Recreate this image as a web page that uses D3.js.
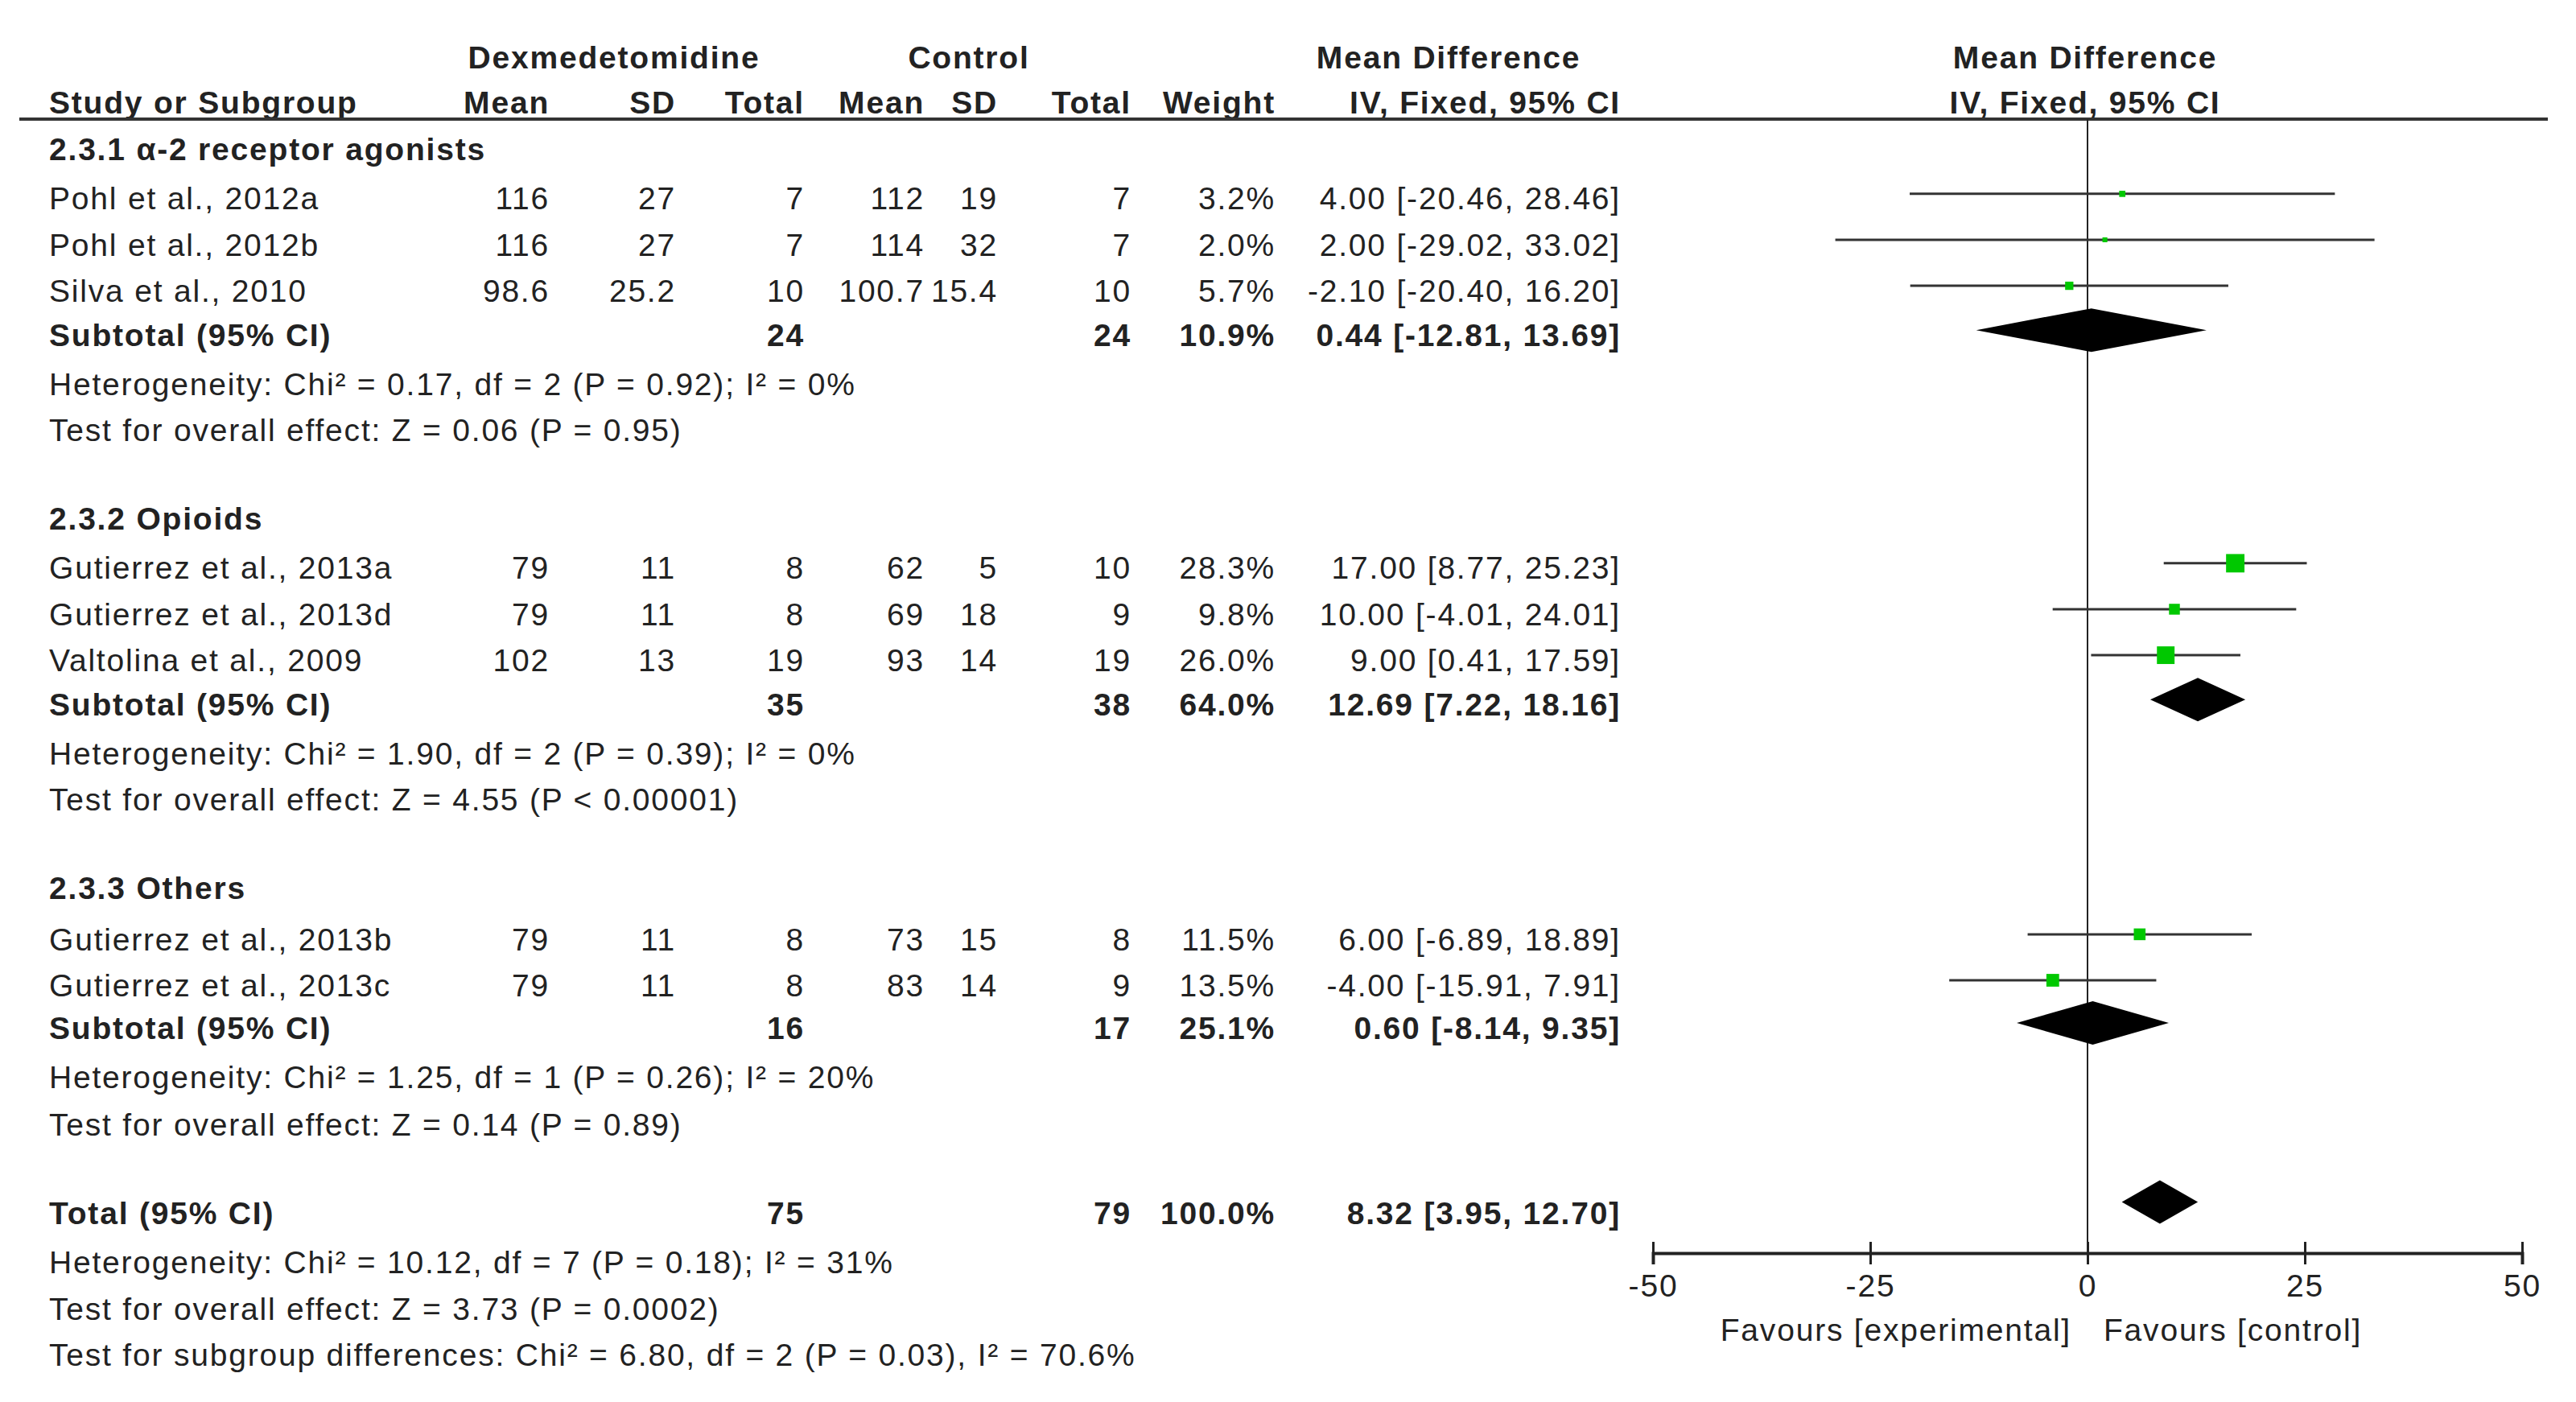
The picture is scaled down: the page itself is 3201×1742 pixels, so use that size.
<!DOCTYPE html><html><head><meta charset="utf-8"><script src="https://cdn.jsdelivr.net/npm/d3@7"></script>
<style>body{margin:0;background:#fff}text{font-family:"Liberation Sans",Arial,sans-serif;font-size:39px;letter-spacing:1.8px;fill:#222}</style></head><body>
<svg id="c" width="3201" height="1742"></svg>
<script>
const studies=["Pohl et al., 2012a","Pohl et al., 2012b","Silva et al., 2010","Gutierrez et al., 2013a","Gutierrez et al., 2013d","Valtolina et al., 2009","Gutierrez et al., 2013b","Gutierrez et al., 2013c"];
const studyGroup=[0,0,0,1,1,1,2,2];
const expMean=["116","116","98.6","79","79","102","79","79"];
const expSD=["27","27","25.2","11","11","13","11","11"];
const expN=["7","7","10","8","8","19","8","8"];
const ctlMean=["112","114","100.7","62","69","93","73","83"];
const ctlSD=["19","32","15.4","5","18","14","15","14"];
const ctlN=["7","7","10","10","9","19","8","9"];
const weight=[3.2,2.0,5.7,28.3,9.8,26.0,11.5,13.5];
const md=[4.00,2.00,-2.10,17.00,10.00,9.00,6.00,-4.00];
const lo=[-20.46,-29.02,-20.40,8.77,-4.01,0.41,-6.89,-15.91];
const hi=[28.46,33.02,16.20,25.23,24.01,17.59,18.89,7.91];
const groups=["2.3.1 α-2 receptor agonists","2.3.2 Opioids","2.3.3 Others"];
const subN1=["24","35","16"],subN2=["24","38","17"],subW=["10.9%","64.0%","25.1%"];
const subMd=[0.44,12.69,0.60],subLo=[-12.81,7.22,-8.14],subHi=[13.69,18.16,9.35];
const subHet=["Heterogeneity: Chi² = 0.17, df = 2 (P = 0.92); I² = 0%","Heterogeneity: Chi² = 1.90, df = 2 (P = 0.39); I² = 0%","Heterogeneity: Chi² = 1.25, df = 1 (P = 0.26); I² = 20%"];
const subTest=["Test for overall effect: Z = 0.06 (P = 0.95)","Test for overall effect: Z = 4.55 (P < 0.00001)","Test for overall effect: Z = 0.14 (P = 0.89)"];
const total={n1:"75",n2:"79",w:"100.0%",md:8.32,lo:3.95,hi:12.70};
const totalNotes=["Heterogeneity: Chi² = 10.12, df = 7 (P = 0.18); I² = 31%","Test for overall effect: Z = 3.73 (P = 0.0002)","Test for subgroup differences: Chi² = 6.80, df = 2 (P = 0.03), I² = 70.6%"];
const ticks=[-50,-25,0,25,50];

const svg=d3.select("#c");
const x=d3.scaleLinear().domain([-50,50]).range([2054,3134]);
const S=2.04;
const studyY=[121,149,177,346,374,402,572,600].map(v=>v*S);
const groupY=[91,316,541].map(v=>v*S), subY=[204,429,626].map(v=>v*S);
const hetY=[234,459,656].map(v=>v*S), testY=[262,487,685].map(v=>v*S);
const totY=739*S, totNoteY=[769,797,825].map(v=>v*S);
const cols=[683,840,1000,1149,1240,1406,1585,2014];
const f=v=>v.toFixed(2);
function t(xx,yy,s,anchor,bold){svg.append("text").attr("x",xx).attr("y",yy).attr("dy","0.35em").attr("text-anchor",anchor||"start").attr("font-weight",bold?"bold":null).text(s);}
t(763,71,"Dexmedetomidine","middle",1);t(1204,71,"Control","middle",1);t(1800,71,"Mean Difference","middle",1);t(2591,71,"Mean Difference","middle",1);
t(61,127,"Study or Subgroup","start",1);
["Mean","SD","Total","Mean","SD","Total","Weight","IV, Fixed, 95% CI"].forEach((h,i)=>t(cols[i],127,h,"end",1));
t(2591,127,"IV, Fixed, 95% CI","middle",1);
svg.append("line").attr("x1",24).attr("x2",3166).attr("y1",148).attr("y2",148).attr("stroke","#333").attr("stroke-width",4);
svg.append("line").attr("x1",x(0)).attr("x2",x(0)).attr("y1",148).attr("y2",1557).attr("stroke","#222").attr("stroke-width",2);
groupY.forEach((y,i)=>t(61,y,groups[i],"start",1));
studies.forEach((s,i)=>{const y=studyY[i];t(61,y,s);
 [expMean[i],expSD[i],expN[i],ctlMean[i],ctlSD[i],ctlN[i],weight[i].toFixed(1)+"%",`${f(md[i])} [${f(lo[i])}, ${f(hi[i])}]`].forEach((v,j)=>t(cols[j],y,v,"end"));
 svg.append("line").attr("x1",x(lo[i])).attr("x2",x(hi[i])).attr("y1",y-6).attr("y2",y-6).attr("stroke","#333").attr("stroke-width",3);
 const sz=Math.max(5,Math.sqrt(weight[i])*4.3);
 svg.append("rect").attr("x",x(md[i])-sz/2).attr("y",y-6-sz/2).attr("width",sz).attr("height",sz).attr("fill","#00c800");});
function diamond(m,l,h,y){svg.append("path").attr("d",`M${x(l)},${y}L${x(m)},${y-27}L${x(h)},${y}L${x(m)},${y+27}Z`).attr("fill","#000");}
subY.forEach((y,i)=>{t(61,y,"Subtotal (95% CI)","start",1);t(cols[2],y,subN1[i],"end",1);t(cols[5],y,subN2[i],"end",1);t(cols[6],y,subW[i],"end",1);
 t(cols[7],y,`${f(subMd[i])} [${f(subLo[i])}, ${f(subHi[i])}]`,"end",1);diamond(subMd[i],subLo[i],subHi[i],y-6);
 t(61,hetY[i],subHet[i]);t(61,testY[i],subTest[i]);});
t(61,totY,"Total (95% CI)","start",1);t(cols[2],totY,total.n1,"end",1);t(cols[5],totY,total.n2,"end",1);t(cols[6],totY,total.w,"end",1);
t(cols[7],totY,`${f(total.md)} [${f(total.lo)}, ${f(total.hi)}]`,"end",1);diamond(total.md,total.lo,total.hi,totY-14);
totalNotes.forEach((s,i)=>t(61,totNoteY[i],s));
const ax=svg.append("g").attr("transform","translate(0,1557)").call(d3.axisBottom(x).tickValues(ticks).tickSize(14).tickFormat(d=>String(d)));
ax.select(".domain").attr("stroke","#222").attr("stroke-width",4);
ax.selectAll(".tick line").attr("stroke","#222").attr("stroke-width",3).attr("y1",-14).attr("y2",14);
ax.selectAll(".tick text").attr("dy","0.35em").attr("y",40).style("font-size","39px").style("fill","#222").attr("font-family","Liberation Sans");
t(x(0)-20,1652,"Favours [experimental]","end");t(x(0)+20,1652,"Favours [control]","start");
</script></body></html>
